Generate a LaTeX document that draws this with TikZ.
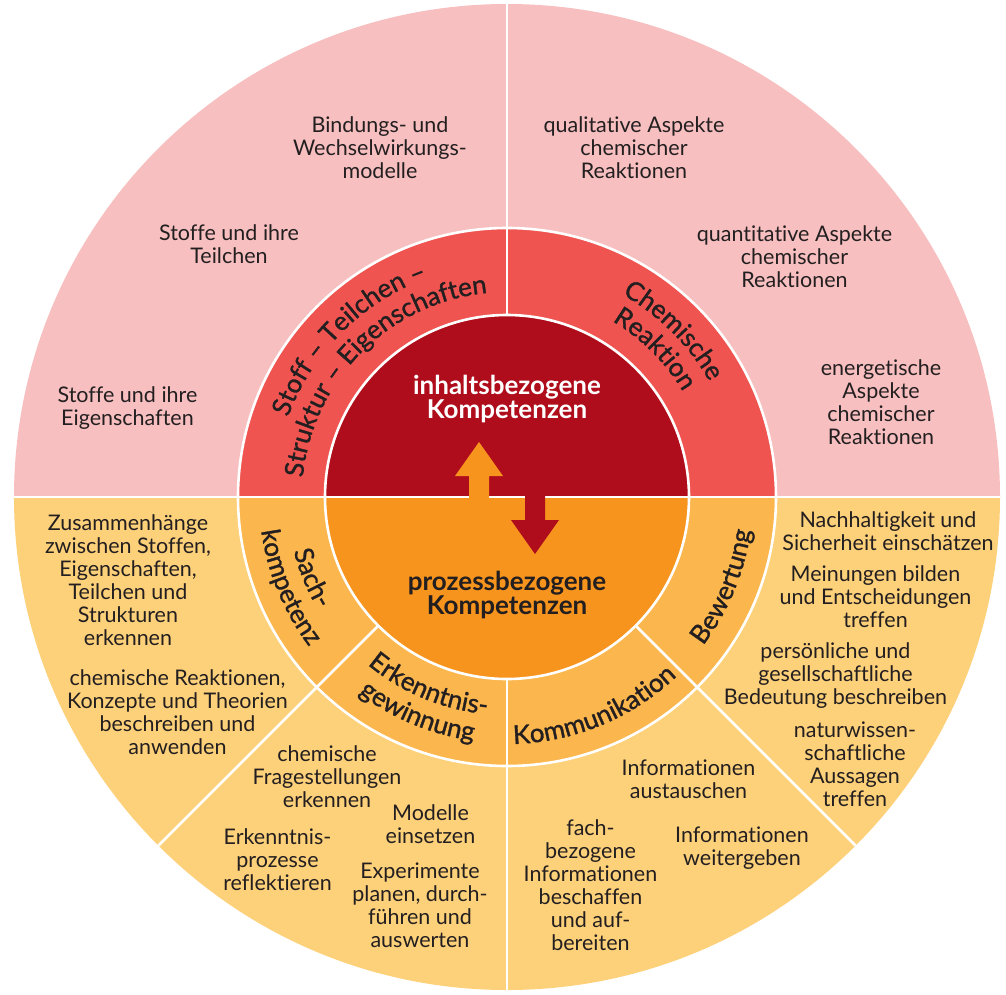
\documentclass[tikz,border=0pt]{standalone}
\usepackage{fontspec}
\setmainfont{Lato}[Ligatures=NoCommon]
\newfontfamily\ringfont[FakeBold=1.2]{Lato}
\usetikzlibrary{decorations.text}
\definecolor{pinkL}{RGB}{247,191,191}
\definecolor{redM}{RGB}{239,84,80}
\definecolor{redD}{RGB}{175,13,27}
\definecolor{yelL}{RGB}{253,208,122}
\definecolor{oraM}{RGB}{251,182,77}
\definecolor{oraD}{RGB}{247,148,30}
\definecolor{ink}{RGB}{35,31,32}
\begin{document}
\begin{tikzpicture}[x=1pt,y=1pt,
  sepline/.style={white,line width=2.6pt},
  outtxt/.style={align=center,text=ink,font=\fontsize{21.5}{23}\selectfont,inner sep=0pt},
  coretxt/.style={align=center,font=\bfseries\fontsize{26}{24}\selectfont,inner sep=0pt},
  ringtxt/.style={decorate,decoration={text along path,text align=center,
     text={|\ringfont\fontsize{26}{26}\selectfont\color{ink}|#1}}}
]
\useasboundingbox (-507,-497) rectangle (499,497);
% sectors
\fill[pinkL] (493,0) arc[start angle=0,end angle=180,radius=493] -- cycle;
\fill[yelL] (-493,0) arc[start angle=180,end angle=360,radius=493] -- cycle;
\fill[redM] (269,0) arc[start angle=0,end angle=180,radius=269] -- cycle;
\fill[oraM] (-269,0) arc[start angle=180,end angle=360,radius=269] -- cycle;
\fill[redD] (182,0) arc[start angle=0,end angle=180,radius=182] -- cycle;
\fill[oraD] (-182,0) arc[start angle=180,end angle=360,radius=182] -- cycle;
% separators
\draw[sepline] (-493,0) -- (493,0);
\draw[sepline] (0,0) circle[radius=269];
\draw[sepline] (0,0) circle[radius=182];
\foreach \a in {90,225,270,315} \draw[sepline] (\a:182) -- (\a:493);
% arrows
\fill[oraD] (-38,-1.5) -- (-38,21) -- (-52,21) -- (-28,55) -- (-4,21) -- (-18,21) -- (-18,-1.5) -- cycle;
\fill[redD] (18,1.5) -- (18,-23) -- (4,-23) -- (28,-57) -- (52,-23) -- (38,-23) -- (38,1.5) -- cycle;
% core texts
\node[coretxt,text=white] (inh) at (0,98) {inhaltsbezogene\\Kompetenzen};
\node[coretxt,text=ink] (proz) at (0,-98) {prozessbezogene\\Kompetenzen};
% ring labels
\path[ringtxt={Stoff – Teilchen –}] (200:233) arc[start angle=200,end angle=70,radius=233];
\path[ringtxt={Struktur – Eigenschaften}] (200:205) arc[start angle=200,end angle=70,radius=205];
\path[ringtxt={Chemische}] (110:233) arc[start angle=110,end angle=-20,radius=233];
\path[ringtxt={Reaktion}] (110:205) arc[start angle=110,end angle=-20,radius=205];
\path[ringtxt={Sach-}] (162.5:220) arc[start angle=162.5,end angle=242.5,radius=220];
\path[ringtxt={kompetenz}] (162.5:248) arc[start angle=162.5,end angle=242.5,radius=248];
\path[ringtxt={Erkenntnis-}] (207.5:218) arc[start angle=207.5,end angle=287.5,radius=218];
\path[ringtxt={gewinnung}] (207.5:246) arc[start angle=207.5,end angle=287.5,radius=246];
\path[ringtxt={Kommunikation}] (252.5:247) arc[start angle=252.5,end angle=332.5,radius=247];
\path[ringtxt={Bewertung}] (297.5:246) arc[start angle=297.5,end angle=377.5,radius=246];
% outer texts: top
\node[outtxt] (bind) at (-127,349) {Bindungs- und\\Wechselwirkungs-\\modelle};
\node[outtxt] (teil) at (-278,252.5) {Stoffe und ihre\\Teilchen};
\node[outtxt] (eig) at (-379.5,88.5) {Stoffe und ihre\\Eigenschaften};
\node[outtxt] (qual) at (127,349) {qualitative Aspekte\\chemischer\\Reaktionen};
\node[outtxt] (quan) at (287.5,240) {quantitative Aspekte\\chemischer\\Reaktionen};
\node[outtxt] (ener) at (374,94.5) {energetische\\Aspekte\\chemischer\\Reaktionen};
% Sachkompetenz
\node[outtxt] (zus) at (-379,-83.5) {Zusammenhänge\\zwischen Stoffen,\\Eigenschaften,\\Teilchen und\\Strukturen\\erkennen};
\node[outtxt] (chr) at (-329.5,-215) {chemische Reaktionen,\\Konzepte und Theorien\\beschreiben und\\anwenden};
% Erkenntnisgewinnung
\node[outtxt] (frag) at (-180,-280) {chemische\\Fragestellungen\\erkennen};
\node[outtxt] (mod) at (-76.5,-327.5) {Modelle\\einsetzen};
\node[outtxt] (refl) at (-229.5,-363) {Erkenntnis-\\prozesse\\reflektieren};
\node[outtxt] (exp) at (-87,-408) {Experimente\\planen, durch-\\führen und\\auswerten};
% Kommunikation
\node[outtxt] (aust) at (181.5,-282.5) {Informationen\\austauschen};
\node[outtxt] (weit) at (235,-351.5) {Informationen\\weitergeben};
\node[outtxt] (fach) at (83.5,-388) {fach-\\bezogene\\Informationen\\beschaffen\\und auf-\\bereiten};
% Bewertung
\node[outtxt] (nach) at (381,-34.5) {Nachhaltigkeit und\\Sicherheit einschätzen};
\node[outtxt] (mein) at (368.5,-100) {Meinungen bilden\\und Entscheidungen\\treffen};
\node[outtxt] (pers) at (328.5,-178.5) {persönliche und\\gesellschaftliche\\Bedeutung beschreiben};
\node[outtxt] (nat) at (348,-267) {naturwissen-\\schaftliche\\Aussagen\\treffen};
\end{tikzpicture}
\end{document}
